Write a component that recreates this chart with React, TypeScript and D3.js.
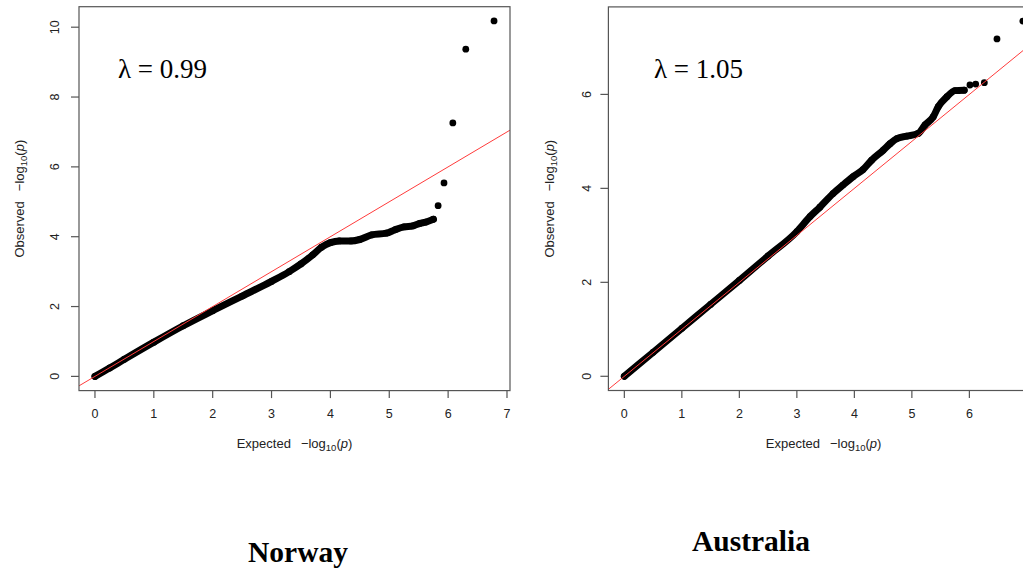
import React from "react";
import * as d3 from "d3";

// ---- Data ----
const norwayBandExpected = [0, 0.25, 0.5, 1, 1.5, 2, 2.5, 3, 3.3, 3.5, 3.7, 3.85, 4.0, 4.15, 4.35, 4.5, 4.7, 4.95, 5.1, 5.25, 5.4, 5.52, 5.62, 5.75];
const norwayBandObserved = [0, 0.24, 0.49, 0.98, 1.45, 1.88, 2.3, 2.72, 3.0, 3.22, 3.48, 3.7, 3.83, 3.88, 3.88, 3.92, 4.05, 4.1, 4.2, 4.28, 4.31, 4.38, 4.42, 4.5];
const norwayTailExpected = [5.83, 5.93, 6.08, 6.3, 6.78];
const norwayTailObserved = [4.89, 5.54, 7.26, 9.37, 10.18];

const australiaBandExpected = [0, 0.5, 1, 1.5, 2, 2.5, 3, 3.23, 3.4, 3.63, 3.8, 3.98, 4.15, 4.3, 4.5, 4.62, 4.74, 4.91, 5.11, 5.23, 5.37, 5.46, 5.61, 5.75, 5.91];
const australiaBandObserved = [0, 0.51, 1.02, 1.53, 2.04, 2.56, 3.08, 3.4, 3.6, 3.89, 4.07, 4.25, 4.4, 4.6, 4.81, 4.95, 5.06, 5.11, 5.17, 5.35, 5.52, 5.74, 5.95, 6.08, 6.09];
const australiaTailExpected = [6.01, 6.11, 6.26, 6.48, 6.93];
const australiaTailObserved = [6.2, 6.22, 6.25, 7.18, 7.56];

const norwayXTicks = [0, 1, 2, 3, 4, 5, 6, 7];
const norwayYTicks = [0, 2, 4, 6, 8, 10];
const australiaXTicks = [0, 1, 2, 3, 4, 5, 6];
const australiaYTicks = [0, 2, 4, 6];

const norwayLambda = "λ = 0.99";
const australiaLambda = "λ = 1.05";
const titles = ["Norway", "Australia"];

const SANS = "'Liberation Sans', Arial, Helvetica, sans-serif";
const SERIF = "'Liberation Serif', 'Times New Roman', serif";

type PanelProps = {
  id: string;
  left: number; right: number; top: number; bottom: number;
  bandX: number[]; bandY: number[]; tailX: number[]; tailY: number[];
  xTicks: number[]; yTicks: number[];
  lambda: string; lambdaX: number; lambdaY: number;
  yTickLabelX: number; yLabelX: number;
};

function Panel(p: PanelProps) {
  const allX = [...p.bandX, ...p.tailX];
  const allY = [...p.bandY, ...p.tailY];
  const xMax = d3.max(allX) as number;
  const yMax = d3.max(allY) as number;
  const padX = xMax * 0.04;
  const padY = yMax * 0.04;
  const x = d3.scaleLinear().domain([-padX, xMax + padX]).range([p.left, p.right]);
  const y = d3.scaleLinear().domain([-padY, yMax + padY]).range([p.bottom, p.top]);
  const band = p.bandX.map((v, i) => [v, p.bandY[i]] as [number, number]);
  const tail = p.tailX.map((v, i) => [v, p.tailY[i]] as [number, number]);
  const line = d3.line<[number, number]>().x(d => x(d[0])).y(d => y(d[1])).curve(d3.curveMonotoneX);
  const lo = -padX - 1, hi = xMax + padX + 1;
  const yTicksVis = p.yTicks.filter(t => t <= yMax + padY);
  const xMid = (p.left + p.right) / 2;
  const yMid = (p.top + p.bottom) / 2;
  const axisColor = "#555";
  const fs = 12.5;
  return (
    <g>
      <defs>
        <clipPath id={`clip-${p.id}`}>
          <rect x={p.left} y={p.top} width={p.right - p.left} height={p.bottom - p.top} />
        </clipPath>
      </defs>
      {/* points */}
      <path d={line(band) || ""} fill="none" stroke="#000" strokeWidth={7} strokeLinecap="round" strokeLinejoin="round" />
      {band.map((d, i) => (
        <circle key={`b${i}`} cx={x(d[0])} cy={y(d[1])} r={3.4} fill="#000" />
      ))}
      {tail.map((d, i) => (
        <circle key={`t${i}`} cx={x(d[0])} cy={y(d[1])} r={3.4} fill="#000" />
      ))}
      {/* y = x reference line */}
      <line clipPath={`url(#clip-${p.id})`} x1={x(lo)} y1={y(lo)} x2={x(hi)} y2={y(hi)} stroke="#ff3b3b" strokeWidth={1} />
      {/* box */}
      <rect x={p.left} y={p.top} width={p.right - p.left} height={p.bottom - p.top} fill="none" stroke={axisColor} strokeWidth={1.2} />
      {/* x ticks */}
      {p.xTicks.map(t => (
        <g key={`xt${t}`}>
          <line x1={x(t)} x2={x(t)} y1={p.bottom} y2={p.bottom + 7.5} stroke={axisColor} strokeWidth={1.2} />
          <text x={x(t)} y={p.bottom + 27.5} textAnchor="middle" fontFamily={SANS} fontSize={fs} fill="#222">{t}</text>
        </g>
      ))}
      {/* y ticks */}
      {yTicksVis.map(t => (
        <g key={`yt${t}`}>
          <line x1={p.left} x2={p.left - 8} y1={y(t)} y2={y(t)} stroke={axisColor} strokeWidth={1.2} />
          <text x={p.yTickLabelX} y={y(t)} transform={`rotate(-90, ${p.yTickLabelX}, ${y(t)})`} textAnchor="middle" fontFamily={SANS} fontSize={fs} fill="#222">{t}</text>
        </g>
      ))}
      {/* axis labels */}
      <text x={xMid} y={p.bottom + 57} textAnchor="middle" fontFamily={SANS} fontSize={13} fill="#222">
        Expected
        <tspan dx={10}>−log</tspan>
        <tspan fontSize={9.5} dy={3}>10</tspan>
        <tspan dy={-3}>(</tspan>
        <tspan fontStyle="italic">p</tspan>
        <tspan>)</tspan>
      </text>
      <text x={p.yLabelX} y={yMid} transform={`rotate(-90, ${p.yLabelX}, ${yMid})`} textAnchor="middle" fontFamily={SANS} fontSize={13} fill="#222">
        Observed
        <tspan dx={10}>−log</tspan>
        <tspan fontSize={9.5} dy={3}>10</tspan>
        <tspan dy={-3}>(</tspan>
        <tspan fontStyle="italic">p</tspan>
        <tspan>)</tspan>
      </text>
      {/* lambda */}
      <text x={p.lambdaX} y={p.lambdaY} fontFamily={SERIF} fontSize={27} fill="#000">{p.lambda}</text>
    </g>
  );
}

export default function App() {
  return (
    <svg width={1023} height={571} style={{ position: "absolute", left: 0, top: 0, background: "#fff" }}>
      <rect x={0} y={0} width={1023} height={571} fill="#fff" />
      <Panel id="nor" left={79} right={510} top={6.7} bottom={390.6}
        bandX={norwayBandExpected} bandY={norwayBandObserved}
        tailX={norwayTailExpected} tailY={norwayTailObserved}
        xTicks={norwayXTicks} yTicks={norwayYTicks}
        lambda={norwayLambda} lambdaX={118} lambdaY={78}
        yTickLabelX={59} yLabelX={24} />
      <Panel id="aus" left={608.4} right={1038.8} top={6.9} bottom={390.5}
        bandX={australiaBandExpected} bandY={australiaBandObserved}
        tailX={australiaTailExpected} tailY={australiaTailObserved}
        xTicks={australiaXTicks} yTicks={australiaYTicks}
        lambda={australiaLambda} lambdaX={654} lambdaY={78}
        yTickLabelX={591} yLabelX={554} />
      <text x={298} y={562} textAnchor="middle" fontFamily={SERIF} fontWeight="bold" fontSize={29.5} fill="#000">{titles[0]}</text>
      <text x={751} y={551} textAnchor="middle" fontFamily={SERIF} fontWeight="bold" fontSize={29.5} fill="#000">{titles[1]}</text>
    </svg>
  );
}
